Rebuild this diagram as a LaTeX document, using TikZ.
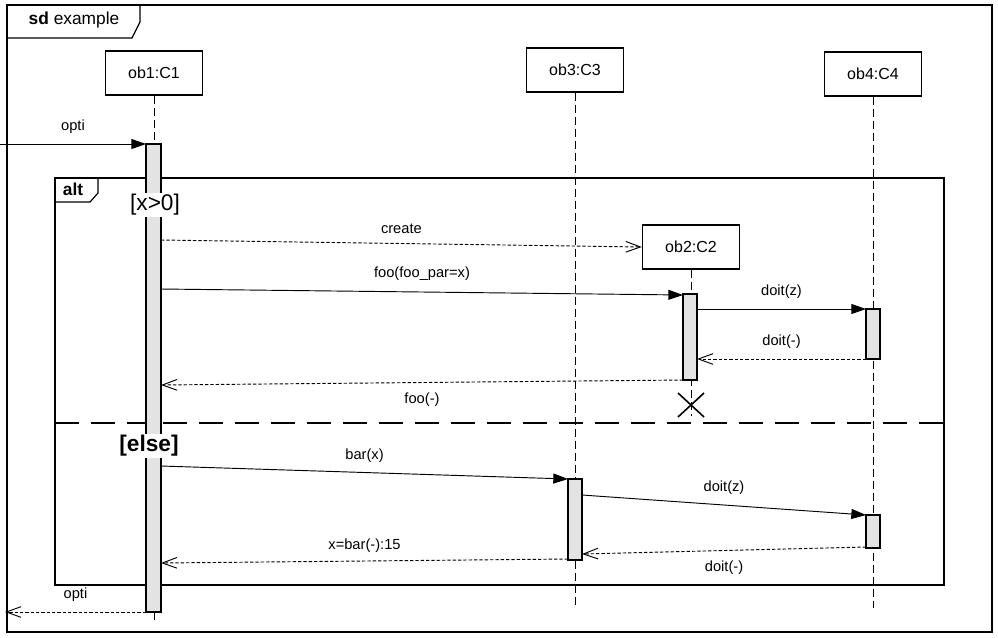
\documentclass[tikz,border=0pt]{standalone}
\usepackage{fontspec}
\setmainfont{Liberation Sans}
\usetikzlibrary{arrows.meta}

\begin{document}
\begin{tikzpicture}[x=0.75pt,y=-0.75pt,
    every node/.style={font=\fontsize{11}{13}\selectfont},
    frame/.style={draw,line width=0.9pt},
    head/.style={draw,fill=white,line width=0.8pt,minimum width=73pt,minimum height=33pt,inner sep=0pt,font=\fontsize{12}{14}\selectfont},
    life/.style={dash pattern=on 6pt off 3pt,line width=0.7pt},
    bar/.style={draw,line width=0.8pt,fill=gray!22},
    call/.style={-{Triangle[length=11pt,width=7.5pt]},line width=0.7pt},
    reply/.style={-{Straight Barb[length=11pt,width=8pt]},dash pattern=on 2.5pt off 1.5pt,line width=0.7pt},
    guard/.style={fill=white,inner sep=1pt,font=\fontsize{17}{19}\selectfont}]
    \useasboundingbox (0,0) rectangle (998,637);
    % Outer frame
    \draw[frame] (7,5) rectangle (992,632);
    \draw[frame] (7,5) -- (140,5) -- (140,22) -- (132,38) -- (7,38);
    \node[anchor=west,font=\fontsize{13}{15}\selectfont] (title) at (24,20) {\textbf{sd} example};
    % Combined fragment
    \draw[frame] (55,178) rectangle (944,585);
    \draw[frame] (55,178) -- (98,178) -- (98,193) -- (90,202) -- (55,202);
    \node[font=\fontsize{13}{15}\selectfont] (alt) at (73,189) {\textbf{alt}};
    \draw[dash pattern=on 18pt off 9pt,line width=0.8pt] (55,423) -- (944,423);
    
    % Lifelines
    \node[head] (ob1) at (154,73) {ob1:C1};
    \node[head] (ob3) at (575,70) {ob3:C3};
    \node[head] (ob4) at (873,74) {ob4:C4};
    \node[head] (ob2) at (691,247) {ob2:C2};
    \coordinate (end1) at (154,620);
    \coordinate (end3) at (575,605);
    \coordinate (end4) at (873,608);
    \coordinate (end2) at (691,416);
    \draw[life] (ob1) -- (end1);
    \draw[life] (ob3) -- (end3);
    \draw[life] (ob4) -- (end4);
    \draw[life] (ob2) -- (end2);
    
    % Activations
    \draw[bar] (146,144) rectangle (161,612);
    \draw[bar] (683,294) rectangle (697,380);
    \draw[bar] (866,309) rectangle (880,359);
    \draw[bar] (568,479) rectangle (582,560);
    \draw[bar] (866,515) rectangle (880,548);
    
    % Destruction
    \draw[line width=1.2pt] (678,393) -- (704,417) (678,417) -- (704,393);
    
    % Guards
    \node[guard] (g1) at (155,205) {[x>0]};
    \node[guard] (g2) at (149,446) {\textbf{[else]}};
    
    % Messages
    \coordinate (in) at (0,144);
    \coordinate (a1) at (146,144);
    \coordinate (c1) at (161,240);
    \coordinate (f1) at (161,289);
    \coordinate (f2) at (683,295);
    \coordinate (d1) at (697,309);
    \coordinate (d2) at (866,309);
    \coordinate (d3) at (866,359);
    \coordinate (d4) at (697,359);
    \coordinate (r1) at (683,380);
    \coordinate (r2) at (161,385);
    \coordinate (b1) at (161,466);
    \coordinate (b2) at (568,479);
    \coordinate (e1) at (582,495);
    \coordinate (e2) at (866,515);
    \coordinate (e3) at (866,547);
    \coordinate (e4) at (582,554);
    \coordinate (x1) at (568,559);
    \coordinate (x2) at (161,563);
    \coordinate (o1) at (146,612);
    \coordinate (out) at (5,612);
    \draw[call] (in) -- node[above=4pt] {opti} (a1);
    \draw[reply] (c1) -- node[above=4pt] {create} (ob2.west);
    \draw[call] (f1) -- node[above=5pt] {foo(foo\_par=x)} (f2);
    \draw[call] (d1) -- node[above=4pt] {doit(z)} (d2);
    \draw[reply] (d3) -- node[above=4pt] {doit(-)} (d4);
    \draw[reply] (r1) -- node[below=4pt] {foo(-)} (r2);
    \draw[call] (b1) -- node[above=4pt] {bar(x)} (b2);
    \draw[call] (e1) -- node[above=4pt] {doit(z)} (e2);
    \draw[reply] (e3) -- node[below=4pt] {doit(-)} (e4);
    \draw[reply] (x1) -- node[above=3pt] {x=bar(-):15} (x2);
    \draw[reply] (o1) -- node[above=4pt] {opti} (out);
\end{tikzpicture}
\end{document}
